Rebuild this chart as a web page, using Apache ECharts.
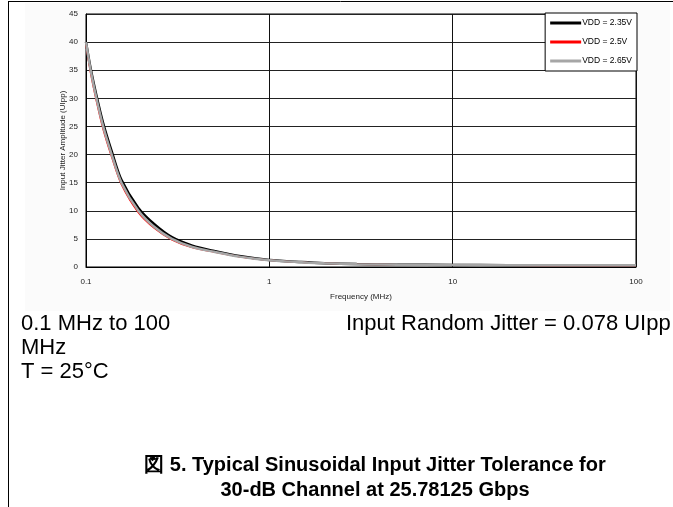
<!DOCTYPE html>
<html><head><meta charset="utf-8">
<script src="https://cdn.jsdelivr.net/npm/echarts@6/dist/echarts.min.js"></script>
<style>html,body{margin:0;padding:0;background:#fff}#c{width:673px;height:507px}</style>
</head><body><div id="c"></div>
<script>
// Frequency (MHz)
const freq = [0.1, 0.106, 0.114, 0.124, 0.138, 0.156, 0.193, 0.236, 0.294, 0.38, 0.5, 0.7, 1, 1.5, 2, 3, 5, 10, 20, 50, 100];
// Input jitter amplitude (UIpp)
const vdd235 = [40, 35.3, 30.5, 25.6, 20.6, 15.5, 10.5, 7.6, 5.3, 3.8, 2.85, 1.9, 1.25, 0.88, 0.68, 0.52, 0.42, 0.36, 0.33, 0.31, 0.31];
const vdd25  = [39.5, 34.5, 29.5, 24.5, 19.6, 14.7, 9.7, 6.9, 4.85, 3.45, 2.65, 1.78, 1.2, 0.85, 0.66, 0.5, 0.4, 0.34, 0.3, 0.28, 0.28];
const vdd265 = [40, 35, 30, 25, 20, 15, 10, 7.1, 5.0, 3.55, 2.7, 1.8, 1.2, 0.85, 0.65, 0.5, 0.4, 0.35, 0.32, 0.3, 0.3];
const seriesNames = ['VDD = 2.35V', 'VDD = 2.5V', 'VDD = 2.65V'];
const seriesColors = ['#000000', '#ff0000', '#a6a6a6'];
const xAxisTitle = 'Frequency (MHz)';
const yAxisTitle = 'Input Jitter Amplitude (UIpp)';
const noteLeft = ['0.1 MHz to 100', 'MHz', 'T = 25°C'];
const noteRight = 'Input Random Jitter = 0.078 UIpp';
const caption = ['図 5. Typical Sinusoidal Input Jitter Tolerance for', '30-dB Channel at 25.78125 Gbps'];

const allData = [vdd235, vdd25, vdd265];
const font = 'Liberation Sans, Arial, sans-serif';
const chart = echarts.init(document.getElementById('c'), null, {renderer: 'canvas'});
chart.setOption({
  animation: false,
  backgroundColor: '#ffffff',
  grid: {left: 86, right: 37, top: 14, bottom: 240, show: true, borderColor: '#000', borderWidth: 1, backgroundColor: '#fff'},
  legend: {
    orient: 'vertical', right: 36, top: 13, padding: [5, 5, 5, 5],
    backgroundColor: '#fff', borderColor: '#000', borderWidth: 1, borderRadius: 0,
    icon: 'rect', itemWidth: 31, itemHeight: 3, itemGap: 9,
    textStyle: {fontFamily: font, fontSize: 8.5, color: '#000', lineHeight: 10, padding: [0, 0, 0, -4]},
    data: seriesNames
  },
  xAxis: {
    type: 'log', logBase: 10, min: 0.1, max: 100,
    name: xAxisTitle, nameLocation: 'middle', nameGap: 26, nameMoveOverlap: false,
    nameTextStyle: {fontFamily: font, fontSize: 8, color: '#222'},
    axisLine: {lineStyle: {color: '#000', width: 1}},
    axisTick: {show: false},
    axisLabel: {fontFamily: font, fontSize: 8, color: '#222', margin: 11, formatter: v => String(v)},
    splitLine: {show: true, lineStyle: {color: '#111', width: 1}},
    minorTick: {show: false}
  },
  yAxis: {
    type: 'value', min: 0, max: 45, interval: 5,
    name: yAxisTitle, nameLocation: 'middle', nameGap: 19, nameMoveOverlap: false,
    nameTextStyle: {fontFamily: font, fontSize: 8, color: '#222'},
    axisLine: {show: true, lineStyle: {color: '#000', width: 1}},
    axisTick: {show: false},
    axisLabel: {fontFamily: font, fontSize: 8, color: '#222', margin: 8},
    splitLine: {show: true, lineStyle: {color: '#222', width: 1}}
  },
  series: seriesNames.map((n, k) => ({
    name: n, type: 'line', smooth: 0.3, symbol: 'none',
    lineStyle: {color: seriesColors[k], width: k === 1 ? 1.5 : 2.5},
    itemStyle: {color: seriesColors[k]},
    data: freq.map((f, i) => [f, allData[k][i]])
  })),
  graphic: [
    {type: 'rect', z: -10, silent: true, shape: {x: 25, y: 3, width: 645, height: 308}, style: {fill: '#fbfbfb'}},
    {type: 'line', shape: {x1: 8, y1: 1.5, x2: 673, y2: 1.5}, style: {stroke: '#000', lineWidth: 1}},
    {type: 'line', shape: {x1: 8.5, y1: 1, x2: 8.5, y2: 507}, style: {stroke: '#000', lineWidth: 1}},
    {type: 'text', left: 21, top: 313, style: {text: noteLeft[0], font: '22px ' + font, fill: '#000'}},
    {type: 'text', left: 21, top: 337, style: {text: noteLeft[1], font: '22px ' + font, fill: '#000'}},
    {type: 'text', left: 21, top: 361, style: {text: noteLeft[2], font: '22px ' + font, fill: '#000'}},
    {type: 'text', left: 346, top: 313, style: {text: noteRight, font: '22px ' + font, fill: '#000'}},
    {type: 'text', x: 375, y: 465, style: {text: caption[0], font: 'bold 20px ' + font, fill: '#000', align: 'center', verticalAlign: 'middle'}},
    {type: 'text', x: 375, y: 490, style: {text: caption[1], font: 'bold 20px ' + font, fill: '#000', align: 'center', verticalAlign: 'middle'}}
  ]
});
</script></body></html>
